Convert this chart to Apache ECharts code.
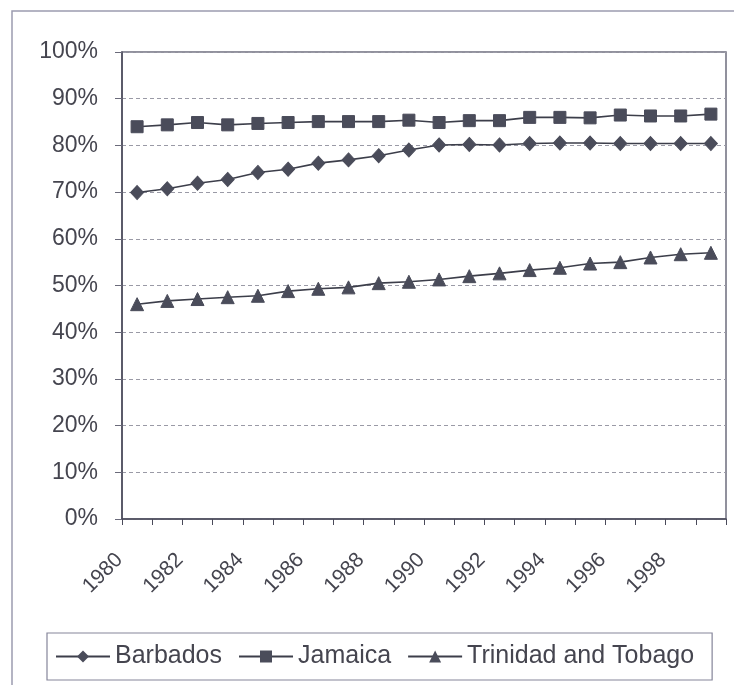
<!DOCTYPE html>
<html>
<head>
<meta charset="utf-8">
<script src="https://cdn.jsdelivr.net/npm/echarts@6/dist/echarts.min.js"></script>
<style>
html,body{margin:0;padding:0;background:#fff;}
#c{width:734px;height:685px;}
</style>
</head>
<body>
<div id="c"></div>
<script>
var years = ['1980','1981','1982','1983','1984','1985','1986','1987','1988','1989','1990','1991','1992','1993','1994','1995','1996','1997','1998','1999'];
var barbados = [69.9,70.7,71.9,72.7,74.2,74.9,76.2,76.9,77.8,79.0,80.1,80.2,80.1,80.4,80.5,80.5,80.4,80.4,80.4,80.4];
var jamaica = [84.0,84.4,84.9,84.4,84.7,84.9,85.1,85.1,85.1,85.4,84.9,85.3,85.3,86.0,86.0,85.9,86.5,86.3,86.3,86.7];
var trinidad = [46.0,46.7,47.1,47.5,47.8,48.8,49.3,49.6,50.5,50.8,51.3,52.0,52.6,53.3,53.8,54.7,55.0,56.0,56.7,57.0];
var yTicks = {min:0, max:100, interval:10};

var font = 'Liberation Sans, Arial, sans-serif';
var textColor = '#45454f';
var lineColor = '#3c3e4a';
var markColor = '#4a4c5a';

var chart = echarts.init(document.getElementById('c'), null, {renderer:'canvas'});

function mk(name, data, symbol, size){
  return {
    name: name, type: 'line', data: data,
    symbol: symbol, symbolSize: size,
    lineStyle: {color: lineColor, width: 1.6},
    itemStyle: {color: markColor, borderColor: markColor},
    animation: false
  };
}

chart.setOption({
  animation: false,
  backgroundColor: '#fff',
  graphic: [{
    type: 'rect', silent: true,
    shape: {x: 12, y: 11, width: 760, height: 700},
    style: {fill: 'none', stroke: '#9c9cb0', lineWidth: 1.5}
  }],
  grid: {left: 122, right: 8, top: 52, bottom: 166, show: true, borderColor: '#6e6e7e', borderWidth: 1.5, backgroundColor: 'transparent'},
  legend: {
    left: 47, top: 633,
    padding: [11, 18, 11, 8],
    itemGap: 16,
    itemWidth: 54, itemHeight: 15,
    borderColor: '#85859a', borderWidth: 1.2,
    textStyle: {fontFamily: font, fontSize: 25, color: textColor},
    data: ['Barbados','Jamaica','Trinidad and Tobago']
  },
  xAxis: {
    type: 'category', data: years, boundaryGap: true,
    axisLine: {lineStyle: {color: '#4a4a5a', width: 1.5}},
    axisTick: {show: true, interval: 0, length: 6, lineStyle: {color: '#4a4a5a'}},
    axisLabel: {
      interval: 1, rotate: 45, margin: 20,
      fontFamily: font, fontSize: 21, color: textColor,
      formatter: function(v){ return '{t|' + v + '}{s|}'; },
      rich: {t: {fontFamily: font, fontSize: 21, color: textColor}, s: {width: 25}}
    },
    splitLine: {show: false}
  },
  yAxis: {
    type: 'value', min: yTicks.min, max: yTicks.max, interval: yTicks.interval,
    axisLine: {show: true, lineStyle: {color: '#4a4a5a', width: 1.5}},
    axisTick: {show: true, length: 7, lineStyle: {color: '#6a6a7a'}},
    axisLabel: {margin: 24, fontFamily: font, fontSize: 23, color: textColor, formatter: '{value}%'},
    splitLine: {show: true, lineStyle: {color: '#9a9aa6', type: [4, 3], width: 1}}
  },
  series: [
    mk('Barbados', barbados, 'diamond', [13, 14]),
    mk('Jamaica', jamaica, 'rect', 12),
    mk('Trinidad and Tobago', trinidad, 'triangle', 13)
  ]
});
</script>
</body>
</html>
